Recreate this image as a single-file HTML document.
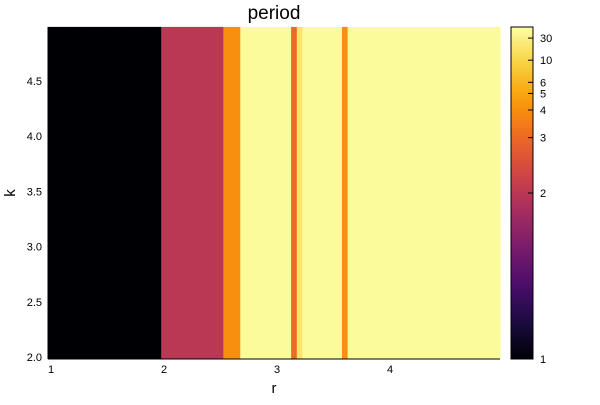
<!DOCTYPE html>
<html><head><meta charset="utf-8"><style>
body{margin:0;background:#fff;font-family:"Liberation Sans","DejaVu Sans",sans-serif}
svg text{font-family:"Liberation Sans","DejaVu Sans",sans-serif}
</style></head><body>
<svg id="c" width="600" height="400">
<text x="274" y="19" font-size="19" text-anchor="middle">period</text>
<g id="cells"></g>
<g id="axes"></g>
<defs><linearGradient id="cg" x1="0" y1="1" x2="0" y2="0"></linearGradient></defs>
<rect x="511" y="27" width="22" height="332" fill="url(#cg)" stroke="#000" stroke-width="1"/>
<g id="cb"></g>
<text x="274" y="393" font-size="15" text-anchor="middle">r</text>
<text x="15" y="193" font-size="15" text-anchor="middle" transform="rotate(-90 15 193)">k</text>
</svg>
<script>
const rValues=[1.00,1.05,1.10,1.15,1.20,1.25,1.30,1.35,1.40,1.45,1.50,1.55,1.60,1.65,1.70,1.75,1.80,1.85,1.90,1.95,
2.00,2.05,2.10,2.15,2.20,2.25,2.30,2.35,2.40,2.45,2.50,2.55,2.60,2.65,2.70,2.75,2.80,2.85,2.90,2.95,
3.00,3.05,3.10,3.15,3.20,3.25,3.30,3.35,3.40,3.45,3.50,3.55,3.60,3.65,3.70,3.75,3.80,3.85,3.90,3.95,
4.00,4.05,4.10,4.15,4.20,4.25,4.30,4.35,4.40,4.45,4.50,4.55,4.60,4.65,4.70,4.75,4.80,4.85,4.90,4.95];
const periods=[1,1,1,1,1,1,1,1,1,1,1,1,1,1,1,1,1,1,1,1,
2,2,2,2,2,2,2,2,2,2,2,4,4,4,100,100,100,100,100,100,
100,100,100,3,16,100,100,100,100,100,100,100,4,100,100,100,100,100,100,100,
100,100,100,100,100,100,100,100,100,100,100,100,100,100,100,100,100,100,100,100];
const xTicks=[1,2,3,4];
const yTicks=[2.0,2.5,3.0,3.5,4.0,4.5];
const cbTicks=[1,2,3,4,5,6,10,30];
const kMin=1.985,kMax=4.99;
const NS="http://www.w3.org/2000/svg";
const X=r=>51+(r-1)*113;
const Y=k=>357-(k-2)*110.4;
const T=p=>1-1/p;
const CB=v=>359-v*332;
const inf=["#000004","#1b0c41","#4a0c6b","#781c6d","#a52c60","#cf4446","#ed6925","#fb9b06","#f7d13d","#fcffa4"];
function hx(h){return [1,3,5].map(i=>parseInt(h.substr(i,2),16));}
function color(t){t=Math.max(0,Math.min(1,t));const s=t*(inf.length-1);const i=Math.min(inf.length-2,Math.floor(s));const f=s-i;
const a=hx(inf[i]),b=hx(inf[i+1]);return "rgb("+a.map((v,j)=>Math.round(v+(b[j]-v)*f)).join(",")+")";}
function mk(tag,at,parent){const e=document.createElementNS(NS,tag);for(const k in at)e.setAttribute(k,at[k]);parent.appendChild(e);return e;}
const cells=document.getElementById('cells');
rValues.forEach((r,i)=>{const x0=X(r-0.025),x1=X(r+0.025);
const e=mk('rect',{x:x0,y:Y(kMax),width:x1-x0+0.4,height:Y(kMin)-Y(kMax),fill:color(T(periods[i]))},cells);

});
const ax=document.getElementById('axes');
mk('line',{x1:48,y1:359,x2:500,y2:359,stroke:"#000"},ax);
mk('line',{x1:48,y1:27,x2:48,y2:359,stroke:"#000"},ax);
xTicks.forEach(v=>{const t=mk('text',{x:X(v),y:373,"font-size":11,"text-anchor":"middle"},ax);t.textContent=v;

});
yTicks.forEach(v=>{const t=mk('text',{x:42,y:Y(v)+4,"font-size":11,"text-anchor":"end"},ax);t.textContent=v.toFixed(1);

});
const g=document.getElementById('cg');
for(let i=0;i<=20;i++){mk('stop',{offset:(i/20),"stop-color":color(i/20)},g);}
const cb=document.getElementById('cb');
cbTicks.forEach(p=>{const y=CB(T(p));mk('line',{x1:528,y1:y,x2:533,y2:y,stroke:"#000"},cb);
const t=mk('text',{x:540,y:y+4,"font-size":11},cb);t.textContent=p;

});
</script>
</body></html>
